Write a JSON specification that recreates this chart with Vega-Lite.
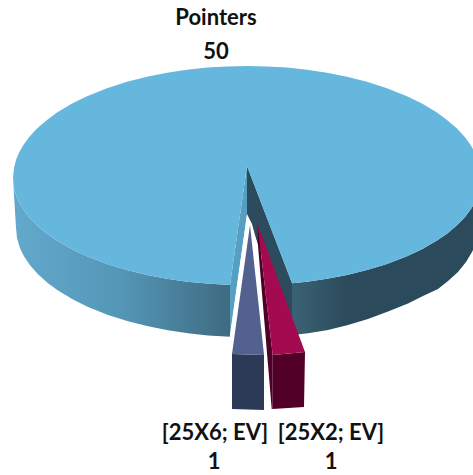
{"$schema":"https://vega.github.io/schema/vega-lite/v6.json","width":473,"height":475,"padding":0,"autosize":{"type":"none"},"background":"white","config":{"view":{"stroke":null}},
"datasets":{"labels":[{"slice":"Pointers","text":"Pointers","x":216,"y":18},{"slice":"Pointers","text":"50","x":216,"y":52},{"slice":"[25X6; EV]","text":"[25X6; EV]","x":215,"y":433},{"slice":"[25X6; EV]","text":"1","x":214,"y":462},{"slice":"[25X2; EV]","text":"[25X2; EV]","x":331,"y":433},{"slice":"[25X2; EV]","text":"1","x":331,"y":462}],
"outline":[
{"part":"sideL","s":1,"x":13,"y":178},{"part":"sideL","s":2,"x":14,"y":187.9},{"part":"sideL","s":3,"x":16,"y":195.1},{"part":"sideL","s":4,"x":19,"y":202.1},{"part":"sideL","s":5,"x":23,"y":209},{"part":"sideL","s":6,"x":29,"y":217},{"part":"sideL","s":7,"x":37,"y":225.3},{"part":"sideL","s":8,"x":47,"y":233.7},{"part":"sideL","s":9,"x":57,"y":240.6},{"part":"sideL","s":10,"x":72,"y":249.2},{"part":"sideL","s":11,"x":87,"y":256.3},{"part":"sideL","s":12,"x":107,"y":264},{"part":"sideL","s":13,"x":127,"y":270.1},{"part":"sideL","s":14,"x":147,"y":275},{"part":"sideL","s":15,"x":167,"y":278.8},{"part":"sideL","s":16,"x":187,"y":281.7},{"part":"sideL","s":17,"x":207,"y":283.6},{"part":"sideL","s":18,"x":230,"y":285},{"part":"sideL","s":19,"x":230,"y":336.7},{"part":"sideL","s":20,"x":208,"y":335.4},{"part":"sideL","s":21,"x":188,"y":333.3},{"part":"sideL","s":22,"x":168,"y":330.3},{"part":"sideL","s":23,"x":148,"y":326.3},{"part":"sideL","s":24,"x":128,"y":321.3},{"part":"sideL","s":25,"x":108,"y":314.9},{"part":"sideL","s":26,"x":88,"y":306.9},{"part":"sideL","s":27,"x":73,"y":299.5},{"part":"sideL","s":28,"x":58,"y":290.6},{"part":"sideL","s":29,"x":48,"y":283.2},{"part":"sideL","s":30,"x":38,"y":274.3},{"part":"sideL","s":31,"x":30,"y":265.3},{"part":"sideL","s":32,"x":24,"y":256.3},{"part":"sideL","s":33,"x":20,"y":248.2},{"part":"sideL","s":34,"x":17,"y":238.1},{"part":"sideL","s":35,"x":16,"y":228},
{"part":"sideR","s":1,"x":292,"y":283.2},{"part":"sideR","s":2,"x":307,"y":281.7},{"part":"sideR","s":3,"x":327,"y":278.8},{"part":"sideR","s":4,"x":347,"y":275},{"part":"sideR","s":5,"x":367,"y":270.1},{"part":"sideR","s":6,"x":387,"y":264},{"part":"sideR","s":7,"x":407,"y":256.3},{"part":"sideR","s":8,"x":422,"y":249.2},{"part":"sideR","s":9,"x":437,"y":240.6},{"part":"sideR","s":10,"x":447,"y":233.7},{"part":"sideR","s":11,"x":457,"y":225.3},{"part":"sideR","s":12,"x":465,"y":217},{"part":"sideR","s":13,"x":471,"y":209},{"part":"sideR","s":14,"x":475,"y":202.1},{"part":"sideR","s":15,"x":481,"y":178},{"part":"sideR","s":16,"x":481,"y":235},{"part":"sideR","s":17,"x":472,"y":252},{"part":"sideR","s":18,"x":466,"y":262},{"part":"sideR","s":19,"x":458,"y":272},{"part":"sideR","s":20,"x":448,"y":281},{"part":"sideR","s":21,"x":438,"y":289},{"part":"sideR","s":22,"x":423,"y":296},{"part":"sideR","s":23,"x":408,"y":303.5},{"part":"sideR","s":24,"x":388,"y":311.5},{"part":"sideR","s":25,"x":368,"y":319},{"part":"sideR","s":26,"x":348,"y":325},{"part":"sideR","s":27,"x":328,"y":330},{"part":"sideR","s":28,"x":308,"y":333.3},{"part":"sideR","s":29,"x":299,"y":334.3},{"part":"sideR","s":30,"x":292,"y":335},
{"part":"innerDark","s":1,"x":247,"y":166},{"part":"innerDark","s":2,"x":292,"y":283},{"part":"innerDark","s":3,"x":292,"y":335},{"part":"innerDark","s":4,"x":247,"y":215},
{"part":"innerLight","s":1,"x":247,"y":166},{"part":"innerLight","s":2,"x":230,"y":285},{"part":"innerLight","s":3,"x":230,"y":337},{"part":"innerLight","s":4,"x":247,"y":215},
{"part":"top","s":1,"x":292,"y":283.2},{"part":"top","s":2,"x":307,"y":281.7},{"part":"top","s":3,"x":327,"y":278.8},{"part":"top","s":4,"x":347,"y":275},{"part":"top","s":5,"x":367,"y":270.1},{"part":"top","s":6,"x":387,"y":264},{"part":"top","s":7,"x":407,"y":256.3},{"part":"top","s":8,"x":422,"y":249.2},{"part":"top","s":9,"x":437,"y":240.6},{"part":"top","s":10,"x":447,"y":233.7},{"part":"top","s":11,"x":457,"y":225.3},{"part":"top","s":12,"x":465,"y":217},{"part":"top","s":13,"x":471,"y":209},{"part":"top","s":14,"x":475,"y":202.1},{"part":"top","s":15,"x":478,"y":195.1},{"part":"top","s":16,"x":480,"y":187.9},{"part":"top","s":17,"x":481,"y":178},{"part":"top","s":18,"x":480,"y":167.7},{"part":"top","s":19,"x":478,"y":160.1},{"part":"top","s":20,"x":475,"y":152.8},{"part":"top","s":21,"x":471,"y":145.6},{"part":"top","s":22,"x":465,"y":137.3},{"part":"top","s":23,"x":457,"y":128.6},{"part":"top","s":24,"x":447,"y":119.9},{"part":"top","s":25,"x":437,"y":112.6},{"part":"top","s":26,"x":422,"y":103.6},{"part":"top","s":27,"x":407,"y":96.3},{"part":"top","s":28,"x":387,"y":88.3},{"part":"top","s":29,"x":367,"y":81.8},{"part":"top","s":30,"x":347,"y":76.7},{"part":"top","s":31,"x":327,"y":72.8},{"part":"top","s":32,"x":307,"y":69.7},{"part":"top","s":33,"x":287,"y":67.6},{"part":"top","s":34,"x":267,"y":66.4},{"part":"top","s":35,"x":247,"y":66},{"part":"top","s":36,"x":227,"y":66.4},{"part":"top","s":37,"x":207,"y":67.6},{"part":"top","s":38,"x":187,"y":69.7},{"part":"top","s":39,"x":167,"y":72.8},{"part":"top","s":40,"x":147,"y":76.7},{"part":"top","s":41,"x":127,"y":81.8},{"part":"top","s":42,"x":107,"y":88.3},{"part":"top","s":43,"x":87,"y":96.3},{"part":"top","s":44,"x":72,"y":103.6},{"part":"top","s":45,"x":57,"y":112.6},{"part":"top","s":46,"x":47,"y":119.9},{"part":"top","s":47,"x":37,"y":128.6},{"part":"top","s":48,"x":29,"y":137.3},{"part":"top","s":49,"x":23,"y":145.6},{"part":"top","s":50,"x":19,"y":152.8},{"part":"top","s":51,"x":16,"y":160.1},{"part":"top","s":52,"x":14,"y":167.7},{"part":"top","s":53,"x":13,"y":178},{"part":"top","s":54,"x":14,"y":187.9},{"part":"top","s":55,"x":16,"y":195.1},{"part":"top","s":56,"x":19,"y":202.1},{"part":"top","s":57,"x":23,"y":209},{"part":"top","s":58,"x":29,"y":217},{"part":"top","s":59,"x":37,"y":225.3},{"part":"top","s":60,"x":47,"y":233.7},{"part":"top","s":61,"x":57,"y":240.6},{"part":"top","s":62,"x":72,"y":249.2},{"part":"top","s":63,"x":87,"y":256.3},{"part":"top","s":64,"x":107,"y":264},{"part":"top","s":65,"x":127,"y":270.1},{"part":"top","s":66,"x":147,"y":275},{"part":"top","s":67,"x":167,"y":278.8},{"part":"top","s":68,"x":187,"y":281.7},{"part":"top","s":69,"x":207,"y":283.6},{"part":"top","s":70,"x":230,"y":285},{"part":"top","s":71,"x":247,"y":166},
{"part":"gap","s":1,"x":247,"y":214},{"part":"gap","s":2,"x":229.5,"y":338},{"part":"gap","s":3,"x":231,"y":356},{"part":"gap","s":4,"x":265,"y":356},{"part":"gap","s":5,"x":271.5,"y":409},{"part":"gap","s":6,"x":257.7,"y":245},{"part":"gap","s":7,"x":252,"y":224},
{"part":"blueSide","s":1,"x":232,"y":354},{"part":"blueSide","s":2,"x":264,"y":355},{"part":"blueSide","s":3,"x":264,"y":410},{"part":"blueSide","s":4,"x":232,"y":409},
{"part":"blueTop","s":1,"x":250,"y":225},{"part":"blueTop","s":2,"x":232,"y":354},{"part":"blueTop","s":3,"x":264,"y":355},
{"part":"redInner","s":1,"x":257.7,"y":224},{"part":"redInner","s":2,"x":272.7,"y":355},{"part":"redInner","s":3,"x":272.7,"y":409},{"part":"redInner","s":4,"x":271.7,"y":409},{"part":"redInner","s":5,"x":257.7,"y":242},
{"part":"redSide","s":1,"x":272.7,"y":355},{"part":"redSide","s":2,"x":305,"y":352},{"part":"redSide","s":3,"x":304,"y":407},{"part":"redSide","s":4,"x":272.7,"y":409},
{"part":"redTop","s":1,"x":257.7,"y":224},{"part":"redTop","s":2,"x":272.7,"y":355},{"part":"redTop","s":3,"x":305,"y":352}
]},
"encoding":{"x":{"field":"x","type":"quantitative","scale":{"domain":[0,473],"nice":false,"zero":false},"axis":null},"y":{"field":"y","type":"quantitative","scale":{"domain":[475,0],"nice":false,"zero":false},"axis":null},"order":{"field":"s","type":"quantitative"}},
"layer":[
{"data":{"name":"outline"},"transform":[{"filter":"datum.part==='sideL'"}],"mark":{"type":"line","filled":true,"strokeWidth":0,"fill":{"gradient":"linear","x1":0,"y1":0,"x2":1,"y2":0,"stops":[{"offset":0,"color":"#63a9cc"},{"offset":0.5,"color":"#5496b6"},{"offset":1,"color":"#3e6b82"}]}}},
{"data":{"name":"outline"},"transform":[{"filter":"datum.part==='sideR'"}],"mark":{"type":"line","filled":true,"strokeWidth":0,"fill":{"gradient":"linear","x1":0,"y1":0,"x2":1,"y2":0,"stops":[{"offset":0,"color":"#3a6274"},{"offset":0.3,"color":"#2b4a5b"},{"offset":1,"color":"#2b4a5b"}]}}},
{"data":{"name":"outline"},"transform":[{"filter":"datum.part==='innerDark'"}],"mark":{"type":"line","filled":true,"strokeWidth":0,"fill":"#2c4c5e"}},
{"data":{"name":"outline"},"transform":[{"filter":"datum.part==='innerLight'"}],"mark":{"type":"line","filled":true,"strokeWidth":0,"fill":"#569fc1"}},
{"data":{"name":"outline"},"transform":[{"filter":"datum.part==='top'"}],"mark":{"type":"line","filled":true,"strokeWidth":0,"fill":"#65b7de"}},
{"data":{"name":"outline"},"transform":[{"filter":"datum.part==='gap'"}],"mark":{"type":"line","filled":true,"strokeWidth":0,"fill":"#ffffff"}},
{"data":{"name":"outline"},"transform":[{"filter":"datum.part==='blueSide'"}],"mark":{"type":"line","filled":true,"strokeWidth":0,"fill":"#2c3a57"}},
{"data":{"name":"outline"},"transform":[{"filter":"datum.part==='blueTop'"}],"mark":{"type":"line","filled":true,"strokeWidth":0,"fill":"#52618e"}},
{"data":{"name":"outline"},"transform":[{"filter":"datum.part==='redInner'"}],"mark":{"type":"line","filled":true,"strokeWidth":0,"fill":"#4f0029"}},
{"data":{"name":"outline"},"transform":[{"filter":"datum.part==='redSide'"}],"mark":{"type":"line","filled":true,"strokeWidth":0,"fill":"#520028"}},
{"data":{"name":"outline"},"transform":[{"filter":"datum.part==='redTop'"}],"mark":{"type":"line","filled":true,"strokeWidth":0,"fill":"#a30a50"}},
{"data":{"name":"labels"},"mark":{"type":"text","font":"Lato","fontWeight":700,"fontSize":22,"color":"#111111","align":"center","baseline":"middle"},"encoding":{"text":{"field":"text","type":"nominal"},"order":{"value":null}}}
]}
